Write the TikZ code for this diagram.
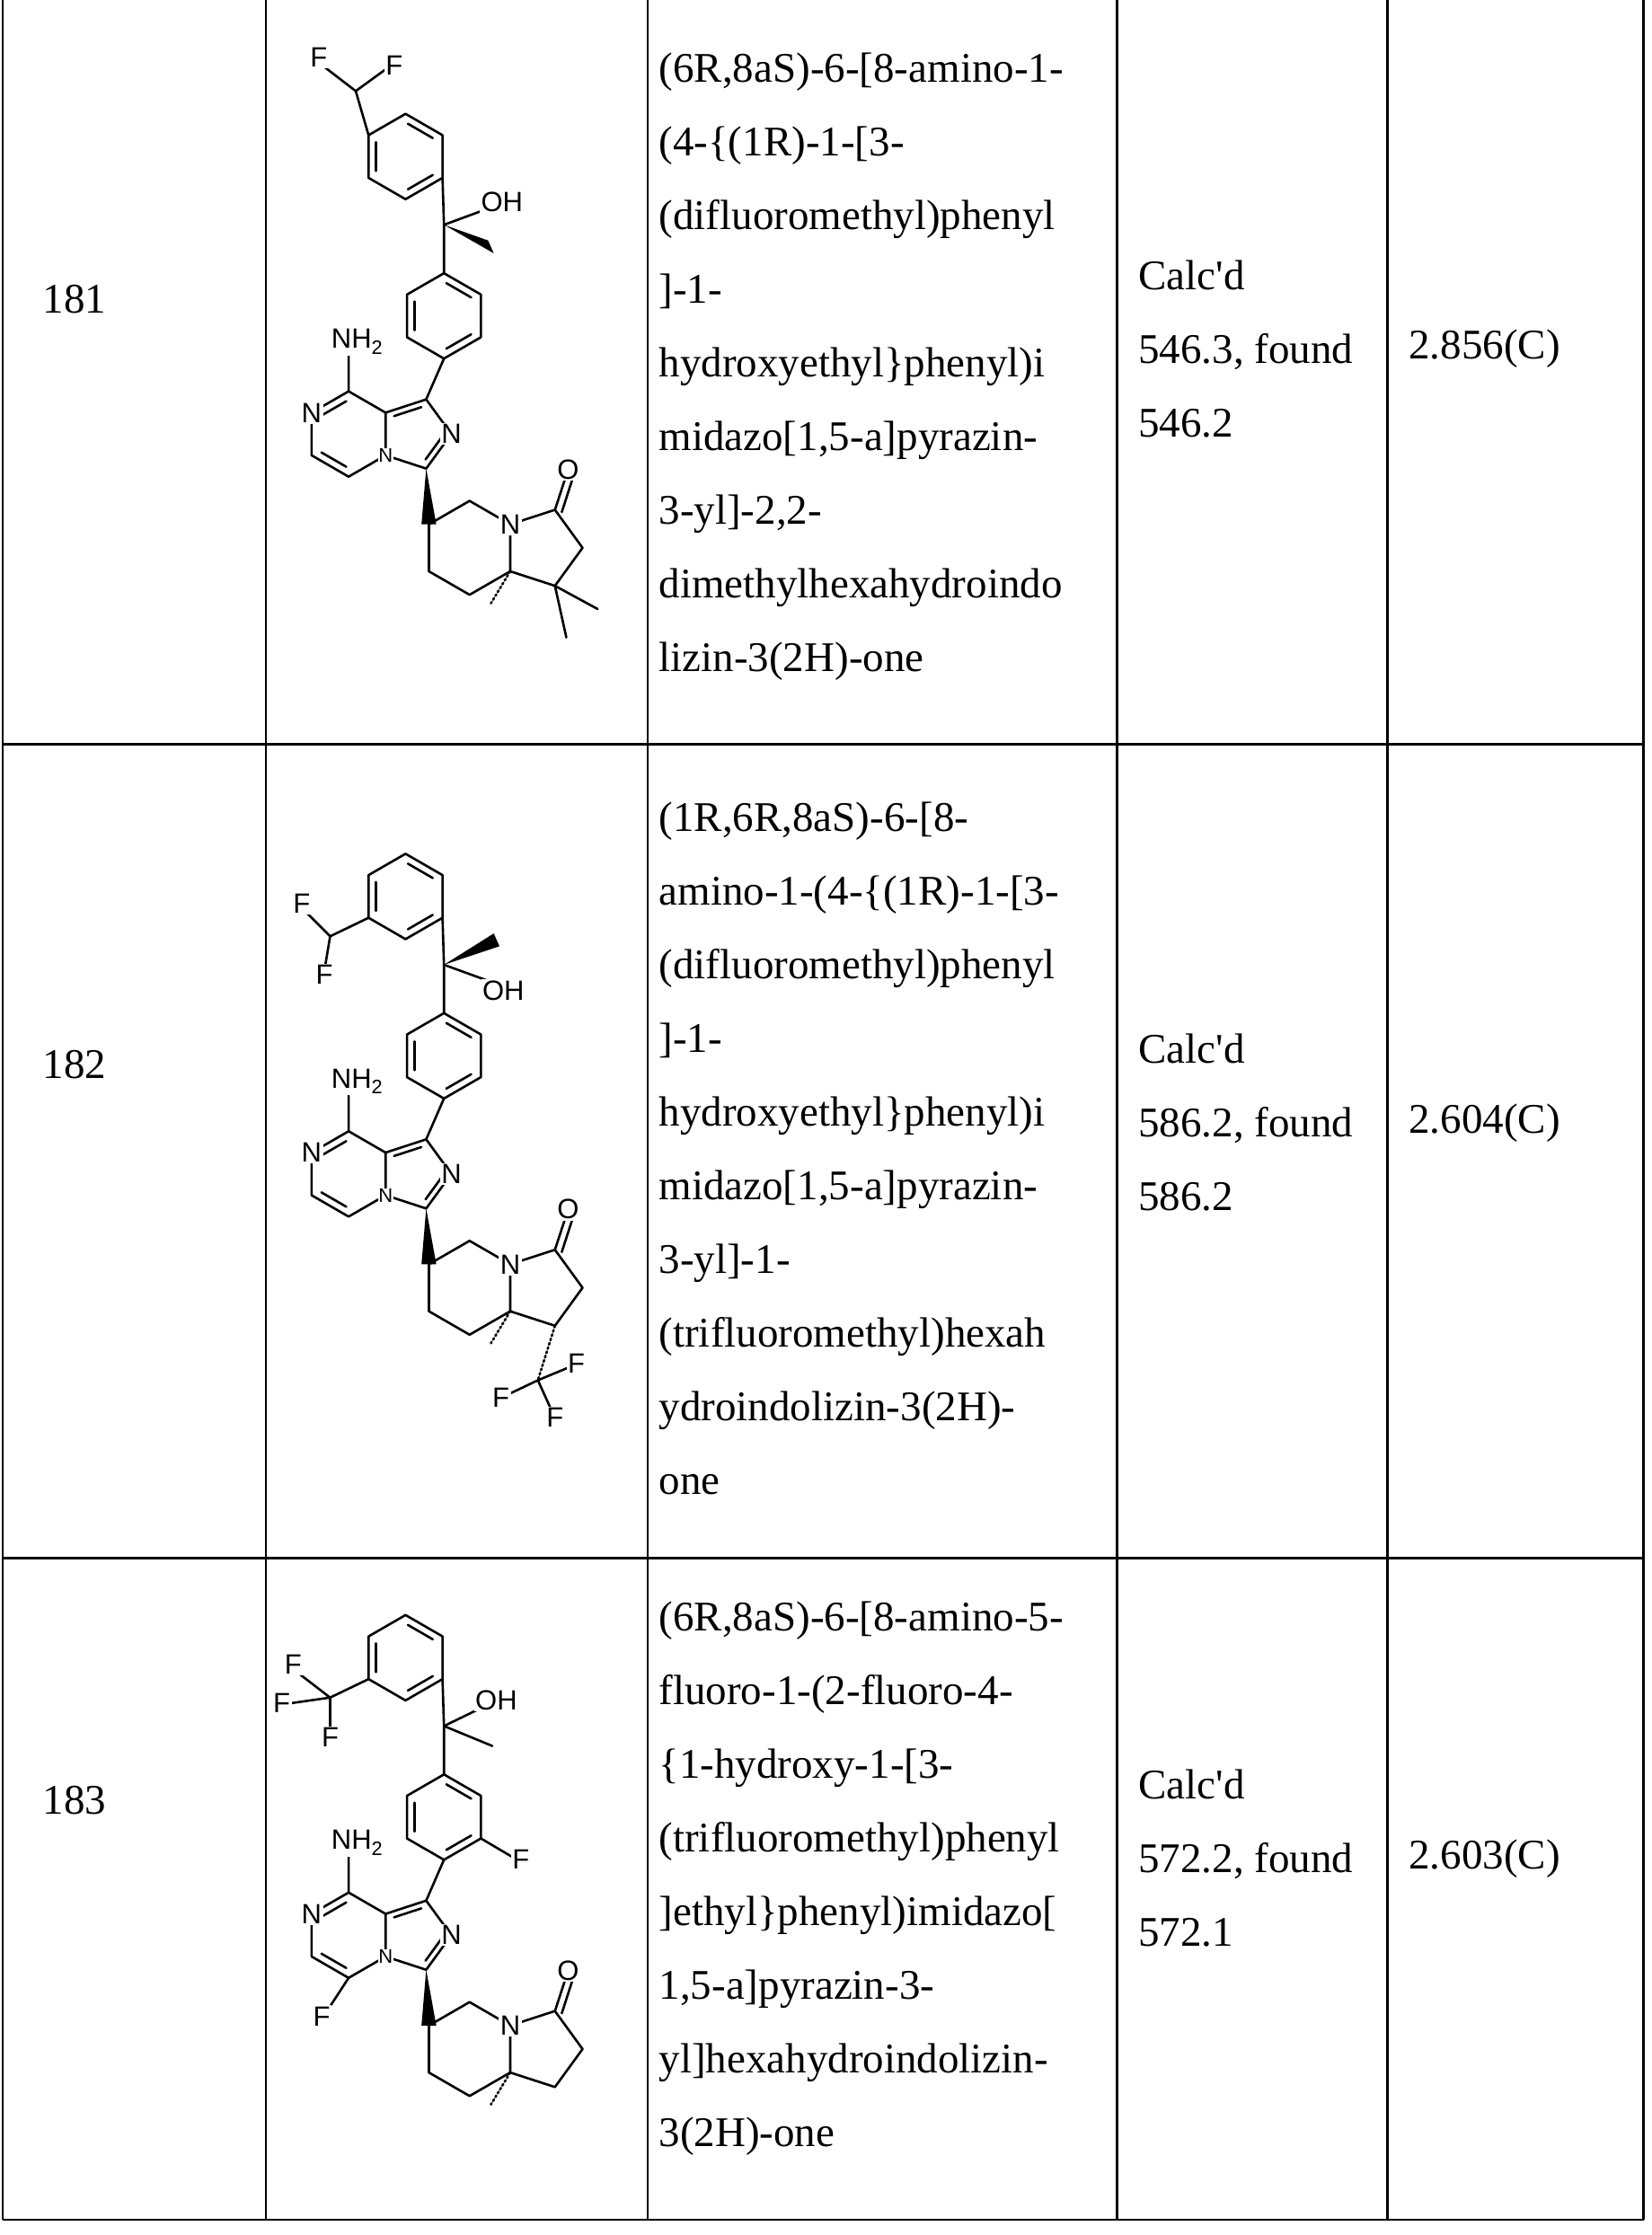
\documentclass[tikz,border=0pt]{standalone}
\usepackage{fontspec}
\setmainfont{Liberation Serif}
\newfontfamily\chemf{Liberation Sans}
\usetikzlibrary{calc}
\newcommand\hexv[4]{\coordinate (#1c) at (#2,#3);\foreach \i/\a in {1/-90,2/-30,3/30,4/90,5/150,6/210}{\coordinate (#1\i) at ({#2+#4*cos(\a)},{#3+#4*sin(\a)});}}
\newcommand\dbl[3]{\draw[bond,shorten <=3pt,shorten >=3pt] ($(#1)!.2!(#3)$) -- ($(#2)!.2!(#3)$);}
\newcommand\ring[1]{\draw[bond] (#11)--(#12)--(#13)--(#14)--(#15)--(#16)--cycle;}
\newcommand\core{%
 \hexv{A}{285}{110}{30}\hexv{B}{312}{222}{30}\hexv{P}{245}{305}{30}\hexv{Q}{330}{385}{33}
 \coordinate (C1) at (299.5,280.7);\coordinate (N2) at (317.2,305);\coordinate (C3) at (299.5,329.3);\coordinate (Ic) at (291.6,305);
 \coordinate (K1) at (390,358.3);\coordinate (K2) at (409.4,385);\coordinate (K3) at (390,411.7);\coordinate (Kc) at (381,385);
 \coordinate (cb) at (312,158);\coordinate (Ox) at (399.3,329.8);\coordinate (NH) at (245,250);
 \ring{A}\dbl{A1}{A2}{Ac}\dbl{A3}{A4}{Ac}\dbl{A5}{A6}{Ac}
 \ring{B}\dbl{B1}{B2}{Bc}\dbl{B3}{B4}{Bc}\dbl{B5}{B6}{Bc}
 \ring{P}\dbl{P1}{P6}{Pc}\dbl{P4}{P5}{Pc}
 \draw[bond] (P2)--(C1)--(N2)--(C3)--(P3);\dbl{P2}{C1}{Ic}\dbl{N2}{C3}{Ic}
 \draw[bond] (B4)--(C1) (P1)--(NH) (A3)--(cb)--(B1);
 \fill (C3) -- (296.2,368.5) -- (306.6,368.5) -- cycle;
 \ring{Q}\draw[bond] (Q2)--(K1)--(K2)--(K3)--(Q3);
 \draw[bond] (K1)--(Ox) (394.8,359.9)--(404,331.4);
 \draw[bond,dash pattern=on 2pt off 3pt] (Q3)--(345,424);
}
\newcommand\labels{%
 \node[atom] at (P6) {N};\node[atom,font=\chemf\fontsize{22}{22}\selectfont,inner sep=0.5pt] at (P3) {N};
 \node[atom] at (N2) {N};\node[atom] at (251,240) {NH\textsubscript{2}};\node[atom] at (Q2) {N};\node[atom] at (Ox) {O};}
\begin{document}
\begin{tikzpicture}[x=1.584pt,y=-1.584pt,
 grid/.style={line width=2.4pt},
 bond/.style={line width=2.6pt,line cap=round,line join=round},
 atom/.style={font=\chemf\fontsize{31}{31}\selectfont,fill=white,inner sep=1.5pt},
 cell/.style={font=\fontsize{47}{82}\selectfont,anchor=west,align=left,inner sep=0pt}]
\useasboundingbox (0,0) rectangle (1160.4,1570.7);
\foreach \x in {2,187,455,785,975,1155}{\draw[grid] (\x,0)--(\x,1560);}
\foreach \y in {523,1095,1560}{\draw[grid] (2,\y)--(1155,\y);}
% 181
\begin{scope}
\core
\coordinate (cf) at (250,64);\draw[bond] (A6)--(cf)--(224,44) (cf)--(272,48);
\coordinate (OH) at (350,144);\draw[bond] (cb)--(OH);
\fill (cb) -- (343,169) -- (347,178) -- cycle;
\draw[bond] (K3)--(420,428) (K3)--(398,448);
\labels
\node[atom] at (224,40) {F};\node[atom] at (277,46) {F};\node[atom,anchor=west] at (337,142) {OH};
\end{scope}
% 182
\begin{scope}[shift={(0,520)}]
\core
\coordinate (cf) at (232,138);\draw[bond] (A5)--(cf)--(212,118) (cf)--(228,162);
\draw[bond] (cb)--(345,170);
\fill (cb) -- (347,136) -- (351,145) -- cycle;
\coordinate (cf3) at (378,450);
\draw[bond,dash pattern=on 2pt off 3pt] (K3)--(cf3);
\draw[bond] (cf3)--(402,440) (cf3)--(357,460) (cf3)--(388,472);
\labels
\node[atom] at (212,115) {F};\node[atom] at (228,165) {F};\node[atom,anchor=west] at (338,176) {OH};
\node[atom] at (405,438) {F};\node[atom] at (352,462) {F};\node[atom] at (390,476) {F};
\end{scope}
% 183
\begin{scope}[shift={(0,1055)}]
\core
\coordinate (cf) at (232,138);\draw[bond] (A5)--(cf)--(206,118) (cf)--(204,142) (cf)--(232,162);
\coordinate (OH) at (345,142);\draw[bond] (cb)--(OH) (cb)--(346,172);
\draw[bond] (B3)--(360,250) (P4)--(230,358);
\labels
\node[atom] at (206,115) {F};\node[atom] at (198,142) {F};\node[atom] at (232,166) {F};
\node[atom,anchor=west] at (333,140) {OH};\node[atom] at (366,252) {F};\node[atom] at (226,362) {F};
\end{scope}
% text
\node[cell] at (30,210) {181};
\node[cell] at (30,748) {182};
\node[cell] at (30,1265) {183};
\node[cell] at (463,258) {(6R,8aS)-6-[8-amino-1-\\(4-\{(1R)-1-[3-\\(difluoromethyl)phenyl\\]-1-\\hydroxyethyl\}phenyl)i\\midazo[1,5-a]pyrazin-\\3-yl]-2,2-\\dimethylhexahydroindo\\lizin-3(2H)-one};
\node[cell] at (463,807) {(1R,6R,8aS)-6-[8-\\amino-1-(4-\{(1R)-1-[3-\\(difluoromethyl)phenyl\\]-1-\\hydroxyethyl\}phenyl)i\\midazo[1,5-a]pyrazin-\\3-yl]-1-\\(trifluoromethyl)hexah\\ydroindolizin-3(2H)-\\one};
\node[cell] at (463,1320) {(6R,8aS)-6-[8-amino-5-\\fluoro-1-(2-fluoro-4-\\\{1-hydroxy-1-[3-\\(trifluoromethyl)phenyl\\]ethyl\}phenyl)imidazo[\\1,5-a]pyrazin-3-\\yl]hexahydroindolizin-\\3(2H)-one};
\node[cell] at (800,245) {Calc\textquotesingle d\\546.3, found\\546.2};
\node[cell] at (800,789) {Calc\textquotesingle d\\586.2, found\\586.2};
\node[cell] at (800,1306) {Calc\textquotesingle d\\572.2, found\\572.1};
\node[cell] at (990,245) {2.856(C)};
\node[cell] at (990,789) {2.604(C)};
\node[cell] at (990,1306) {2.603(C)};
\end{tikzpicture}
\end{document}
